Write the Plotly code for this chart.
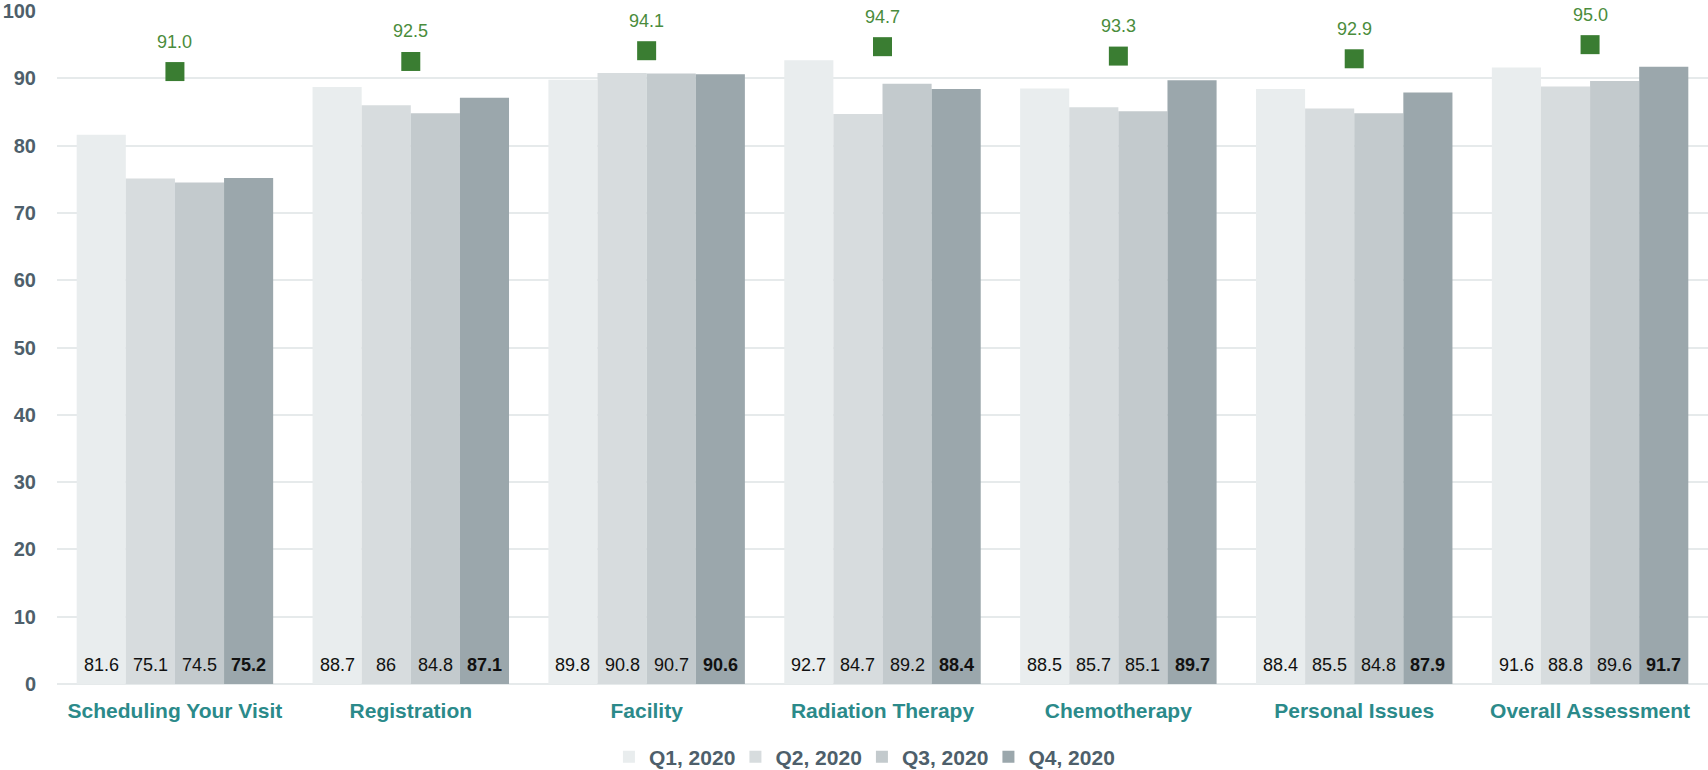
import plotly.graph_objects as go

categories = ["Scheduling Your Visit", "Registration", "Facility", "Radiation Therapy",
              "Chemotherapy", "Personal Issues", "Overall Assessment"]
q1_2020 = [81.6, 88.7, 89.8, 92.7, 88.5, 88.4, 91.6]
q2_2020 = [75.1, 86, 90.8, 84.7, 85.7, 85.5, 88.8]
q3_2020 = [74.5, 84.8, 90.7, 89.2, 85.1, 84.8, 89.6]
q4_2020 = [75.2, 87.1, 90.6, 88.4, 89.7, 87.9, 91.7]
targets = [91.0, 92.5, 94.1, 94.7, 93.3, 92.9, 95.0]

series_names = ["Q1, 2020", "Q2, 2020", "Q3, 2020", "Q4, 2020"]
series_values = [q1_2020, q2_2020, q3_2020, q4_2020]
series_colors = ["#e9edee", "#d7dcde", "#c3cacd", "#9ba7ac"]

FONT = "Arial, Liberation Sans, sans-serif"
WIDTH, HEIGHT = 1708, 770
MARGIN = dict(l=57, r=0, t=11, b=86)
BARGAP = 0.167

fig = go.Figure()
for name, vals, col in zip(series_names, series_values, series_colors):
    fig.add_trace(go.Bar(
        x=categories, y=vals, name=name,
        marker=dict(color=col, line=dict(width=0)),
        hoverinfo="skip",
    ))

fig.add_trace(go.Scatter(
    x=categories, y=targets, mode="markers", showlegend=False,
    marker=dict(symbol="square", size=19, color="#3a7d32"),
    hoverinfo="skip",
))

# value labels sit near the foot of each bar; shift each one to its bar's slot in the group
plot_w = WIDTH - MARGIN["l"] - MARGIN["r"]
bar_w = plot_w / len(categories) * (1 - BARGAP) / len(series_names)
annotations = []
for i, vals in enumerate(series_values):
    offset = (i - (len(series_names) - 1) / 2) * bar_w
    for cat, v in zip(categories, vals):
        label = f"{v:g}"
        annotations.append(dict(
            x=cat, y=0, xref="x", yref="y", xshift=offset, yshift=19,
            yanchor="middle", showarrow=False,
            text=f"<b>{label}</b>" if i == 3 else label,
            font=dict(family=FONT, size=18, color="#111111"),
        ))

# target values above the green markers
for cat, t in zip(categories, targets):
    annotations.append(dict(
        x=cat, y=t, xref="x", yref="y", yshift=30, yanchor="middle",
        showarrow=False, text=f"{t:.1f}",
        font=dict(family=FONT, size=18, color="#4a8c3c"),
    ))

fig.update_layout(
    width=WIDTH, height=HEIGHT,
    margin=dict(**MARGIN, autoexpand=False),
    paper_bgcolor="white", plot_bgcolor="white",
    barmode="group", bargap=BARGAP, bargroupgap=0,
    font=dict(family=FONT),
    showlegend=True,
    annotations=annotations,
    legend=dict(
        orientation="h", x=0.3343, xanchor="left",
        y=-0.1085, yanchor="middle",
        font=dict(family=FONT, size=21, color="#4e5f6b", weight="bold"),
        entrywidth=81.5, entrywidthmode="pixels", traceorder="normal",
    ),
    xaxis=dict(
        showgrid=False, zeroline=False, showline=False, automargin=False,
        tickangle=0,
        ticks="outside", ticklen=8, tickcolor="rgba(0,0,0,0)",
        tickfont=dict(family=FONT, size=21, color="#2b8a8a", weight="bold"),
    ),
    yaxis=dict(
        range=[0, 100], tick0=0, dtick=10, automargin=False,
        showgrid=True, gridcolor="#e6eaeb", gridwidth=2,
        zeroline=True, zerolinecolor="#e6eaeb", zerolinewidth=2,
        showline=False,
        ticks="outside", ticklen=16, tickcolor="rgba(0,0,0,0)",
        tickfont=dict(family=FONT, size=20, color="#4e5f6b", weight="bold"),
    ),
)

fig.write_html("out.html")
